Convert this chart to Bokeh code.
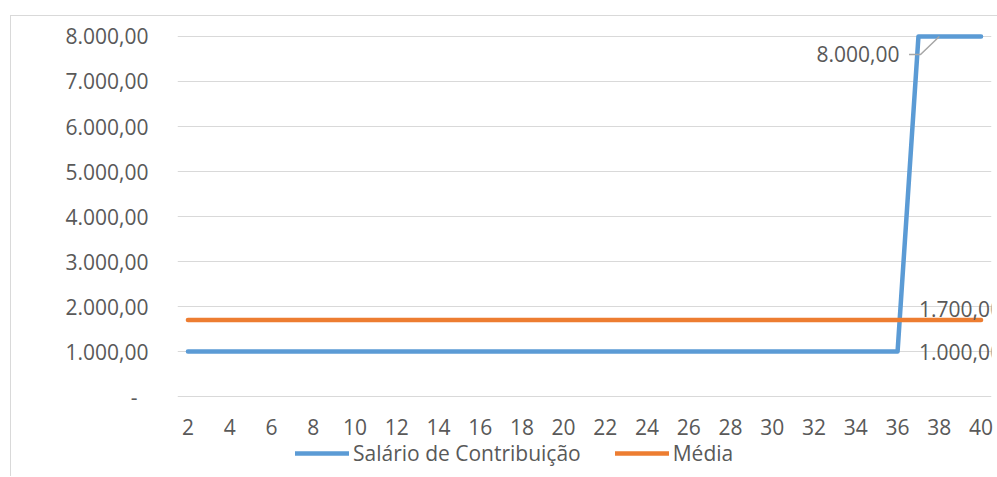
from bokeh.plotting import figure
from bokeh.models import FixedTicker, Legend, LegendItem, Label, Range1d
from bokeh.layouts import column
from bokeh.embed import file_html
from bokeh.resources import INLINE

# ---- data ----
meses = list(range(2, 41))
salario = [1000, 1000, 1000, 1000, 1000, 1000, 1000, 1000, 1000, 1000,
           1000, 1000, 1000, 1000, 1000, 1000, 1000, 1000, 1000, 1000,
           1000, 1000, 1000, 1000, 1000, 1000, 1000, 1000, 1000, 1000,
           1000, 1000, 1000, 1000, 1000, 8000, 8000, 8000, 8000]
media = [1700] * 39
y_ticks = [0, 1000, 2000, 3000, 4000, 5000, 6000, 7000, 8000]
y_tick_labels = ["-\u00a0\u00a0", "1.000,00", "2.000,00", "3.000,00", "4.000,00",
                 "5.000,00", "6.000,00", "7.000,00", "8.000,00"]
x_ticks = list(range(2, 41, 2))
nome_salario = "Salário de Contribuição"
nome_media = "Média"


def fmt(v):
    s = f"{v:,.2f}"
    return s.replace(",", "X").replace(".", ",").replace("X", ".")


FONT = "Open Sans"
TXT = "#595959"
BLUE = "#5b9bd5"
ORANGE = "#ed7d31"
GRID = "#d9d9d9"

p = figure(width=986, height=425, output_backend="svg", toolbar_location=None,
           x_range=(1.5, 40.5), y_range=(-44, 8111),
           min_border_left=166, min_border_right=6, min_border_top=15,
           min_border_bottom=43)
p.outline_line_color = None
p.background_fill_color = "white"
p.border_fill_color = "white"

p.xgrid.grid_line_color = None
p.ygrid.grid_line_color = GRID
p.ygrid.grid_line_width = 1

p.yaxis.ticker = FixedTicker(ticks=y_ticks)
p.yaxis.major_label_overrides = {t: l for t, l in zip(y_ticks, y_tick_labels)}
p.xaxis.ticker = FixedTicker(ticks=x_ticks)
for ax in (p.xaxis, p.yaxis):
    ax.axis_line_color = None
    ax.major_tick_line_color = None
    ax.minor_tick_line_color = None
    ax.major_tick_out = 0
    ax.major_tick_in = 0
    ax.major_label_text_font = FONT
    ax.major_label_text_font_size = "21px"
    ax.major_label_text_color = TXT
p.yaxis.major_label_standoff = 29
p.xaxis.major_label_standoff = 20

r1 = p.line(meses, salario, line_color=BLUE, line_width=4.5,
            line_cap="round", line_join="round")
r2 = p.line(meses, media, line_color=ORANGE, line_width=4.5,
            line_cap="round", line_join="round")

# leader line for the 8.000,00 label
i8 = salario.index(8000)
xp, yp = meses[i8], salario[i8]
p.line([xp - 0.45, xp + 0.1, xp + 1], [yp - 400, yp - 400, yp],
       line_color="#a6a6a6", line_width=1.5)

p.add_layout(Label(x=xp, y=yp, text=fmt(yp), x_offset=-19, y_offset=-18,
                   text_align="right", text_baseline="middle",
                   text_font=FONT, text_font_size="21px", text_color=TXT))
p.add_layout(Label(x=meses[-1], y=media[-1], text=fmt(media[-1]), x_offset=-62,
                   y_offset=11, text_align="left", text_baseline="middle",
                   text_font=FONT, text_font_size="21px", text_color=TXT))
p.add_layout(Label(x=meses[-1], y=salario[0], text=fmt(salario[0]), x_offset=-62,
                   y_offset=0, text_align="left", text_baseline="middle",
                   text_font=FONT, text_font_size="21px", text_color=TXT))

# ---- legend strip ----
lf = figure(width=986, height=35, output_backend="svg", toolbar_location=None,
            x_range=Range1d(0, 1), y_range=Range1d(0, 1),
            x_axis_type=None, y_axis_type=None,
            min_border_left=0, min_border_right=0, min_border_top=0,
            min_border_bottom=0)
lf.outline_line_color = None
lf.grid.visible = False
# legend proxies (kept outside the visible range of this strip)
l1 = lf.line([5, 6], [5, 6], line_color=BLUE, line_width=4.5, line_cap="round")
l2 = lf.line([5, 6], [5, 6], line_color=ORANGE, line_width=4.5, line_cap="round")
legend = Legend(items=[LegendItem(label=nome_salario, renderers=[l1]),
                       LegendItem(label=nome_media, renderers=[l2])],
                orientation="horizontal", location=(118, 9),
                glyph_width=54, glyph_height=20, label_standoff=4, spacing=34,
                padding=0, margin=0, border_line_color=None,
                background_fill_alpha=0,
                label_text_font=FONT, label_text_font_size="21px",
                label_text_color=TXT)
lf.add_layout(legend, "center")

layout = column(p, lf, spacing=0)
layout.margin = (15, 0, 0, 10)
layout.styles = {"border-left": "1px solid #d9d9d9", "border-top": "1px solid #d9d9d9"}

open("out.html", "w").write(file_html(layout, INLINE))
